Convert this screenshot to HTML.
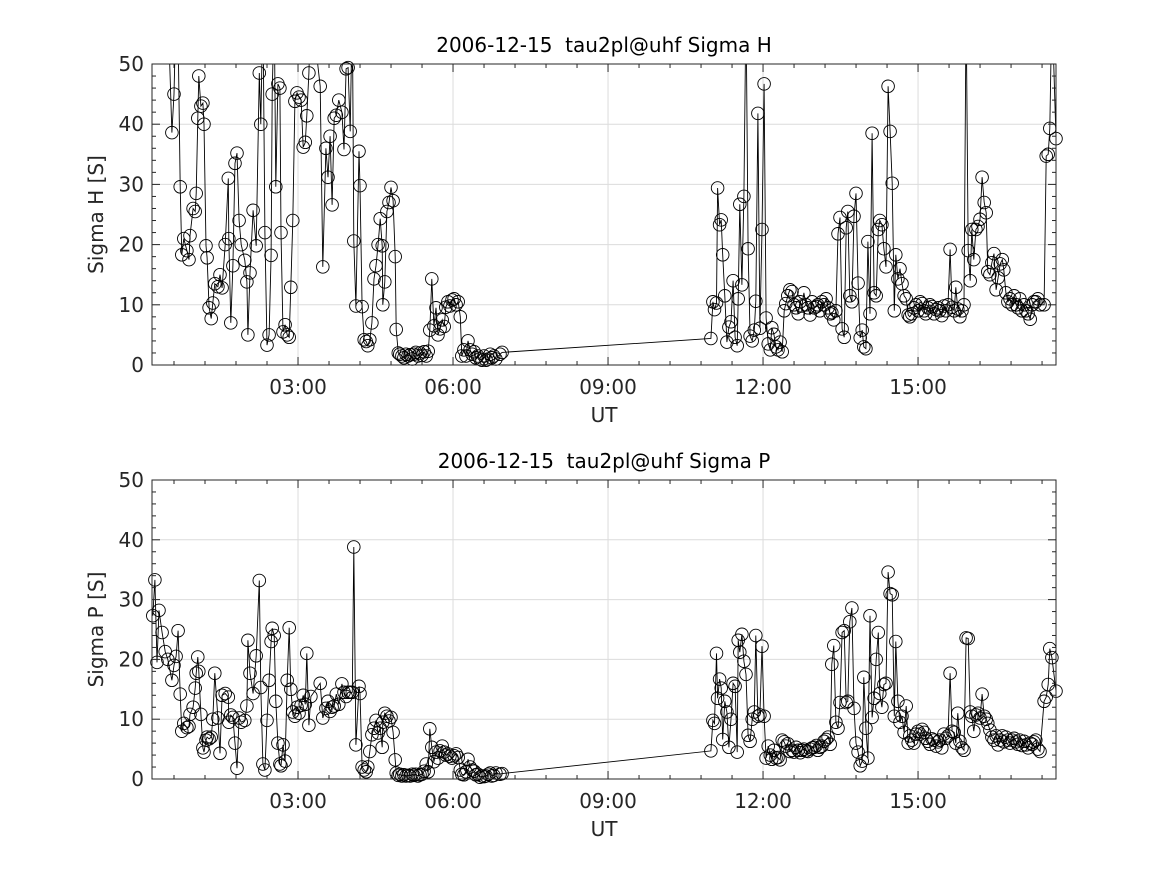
<!DOCTYPE html>
<html><head><meta charset="utf-8"><style>
body{margin:0;background:#fff;}
svg{display:block;font-family:"DejaVu Sans","Liberation Sans",sans-serif;}
text{white-space:pre;}
</style></head><body>
<svg id="fig" width="1167" height="875" viewBox="0 0 1167 875"></svg>
<script>
const times=[0.19,0.23,0.27,0.31,0.37,0.43,0.48,0.56,0.60,0.64,0.68,0.72,0.75,0.79,0.85,0.89,0.91,0.97,1.01,1.03,1.06,1.08,1.12,1.16,1.18,1.22,1.24,1.28,1.32,1.35,1.39,1.45,1.49,1.53,1.59,1.65,1.66,1.70,1.74,1.78,1.82,1.86,1.90,1.97,2.01,2.03,2.07,2.13,2.19,2.25,2.28,2.32,2.36,2.40,2.44,2.48,2.50,2.54,2.57,2.61,2.65,2.67,2.71,2.75,2.79,2.83,2.86,2.90,2.94,2.98,3.02,3.06,3.10,3.14,3.17,3.21,3.25,3.43,3.48,3.54,3.58,3.62,3.66,3.70,3.74,3.79,3.85,3.89,3.93,3.97,4.01,4.05,4.08,4.12,4.18,4.20,4.24,4.28,4.32,4.35,4.39,4.43,4.47,4.51,4.55,4.59,4.63,4.64,4.68,4.72,4.76,4.80,4.84,4.88,4.90,4.94,4.97,5.01,5.05,5.09,5.13,5.17,5.21,5.24,5.28,5.32,5.36,5.40,5.44,5.48,5.52,5.55,5.59,5.63,5.67,5.71,5.75,5.79,5.83,5.86,5.90,5.94,5.98,6.02,6.06,6.10,6.14,6.17,6.21,6.25,6.29,6.33,6.37,6.41,6.44,6.48,6.52,6.56,6.60,6.64,6.68,6.72,6.75,6.79,6.83,6.91,6.95,
10.99,11.03,11.06,11.10,11.12,11.16,11.19,11.22,11.26,11.30,11.34,11.38,11.42,11.46,11.50,11.52,11.55,11.59,11.63,11.67,11.71,11.75,11.79,11.83,11.86,11.90,11.94,11.98,12.02,12.06,12.10,12.14,12.17,12.21,12.25,12.29,12.33,12.37,12.41,12.44,12.48,12.52,12.56,12.60,12.64,12.68,12.72,12.75,12.79,12.83,12.87,12.91,12.95,12.99,13.03,13.06,13.10,13.14,13.18,13.22,13.26,13.30,13.33,13.37,13.41,13.45,13.49,13.53,13.57,13.61,13.64,13.68,13.72,13.76,13.80,13.84,13.88,13.92,13.95,13.99,14.03,14.07,14.11,14.15,14.19,14.23,14.26,14.30,14.34,14.38,14.42,14.46,14.50,14.54,14.57,14.61,14.65,14.69,14.73,14.77,14.81,14.84,14.88,14.92,14.96,15.00,15.04,15.08,15.12,15.15,15.19,15.23,15.27,15.31,15.35,15.39,15.42,15.46,15.50,15.54,15.58,15.62,15.66,15.70,15.73,15.77,15.81,15.85,15.89,15.93,15.97,16.01,16.04,16.08,16.12,16.16,16.20,16.24,16.28,16.32,16.35,16.39,16.43,16.47,16.51,16.55,16.59,16.63,16.66,16.70,16.74,16.78,16.82,16.86,16.90,16.93,16.97,17.01,17.05,17.09,17.13,17.17,17.21,17.24,17.28,17.32,17.36,17.44,17.48,17.52,17.55,17.59,17.67];
const sigmaH=[60,70,55,65,60,60,60,38.6,45,60,55,29.6,18.3,21,19,17.5,21.5,26,25.5,28.5,41,48,43,43.5,40,19.8,17.8,9.5,7.7,10.3,13.5,13,15,12.8,20,31,21,7,16.5,33.5,35.2,24,20,17.4,13.8,5,15.3,25.7,19.8,48.5,40,60,22,3.3,5,18.2,45,60,29.6,46.7,46,22,5.5,6.7,5,4.6,12.9,24,43.8,45.2,44.5,44,36.2,37,41.4,48.5,60,46.3,16.3,36,31.2,38,26.6,41,41.5,44,42,35.8,49.2,49.4,38.8,60,20.6,9.8,35.5,29.8,9.7,4.2,3.9,3.2,4.2,7,14.3,16.5,20,24.3,19.8,10,13.8,25.5,27,29.5,27.3,18,5.9,2,1.8,1.5,1.2,1.8,1.5,1.7,1,1.8,2.1,1.5,2,1.6,2.2,1.5,2.3,5.8,14.3,6.5,9.5,5,6,7.5,6.4,9.6,10.5,9.8,10.8,11,10,10.5,8,1.5,2.5,1.5,4,2.5,1.8,2.2,1.2,1.5,1,0.8,1.5,0.8,1,1.8,1.2,1.5,1,1.8,2.1,
4.4,10.5,9.2,10.3,29.4,23.3,24.1,18.3,11.5,3.8,6.3,7.2,14,4.6,3.2,11,26.7,13.3,28,60,19.3,4.8,4,5.8,10.6,41.8,6.1,22.5,46.7,7.8,3.5,2.5,6.2,5.1,3,2.5,3.8,2.2,9,10.2,11.5,12.5,12.2,10,9.5,8.5,10.5,9.8,12,10,9.5,8.3,10.5,9.5,9.7,10,9,10.5,10,11,9.5,8.5,8.7,7.5,9,21.8,24.5,6,4.6,22.8,25.5,11.5,10.5,24.7,28.5,13.6,4.5,5.8,3,2.7,20.5,8.5,38.5,12,11.5,22.5,24,23.3,19.3,16.3,46.3,38.8,30.2,9,18.3,14.3,16,13.5,11.5,11,8.3,8,8.5,9.5,10,9,10.5,10.2,9,8.5,9.5,10,9.7,8.5,9.2,9.5,9,8.2,9.8,9,10,19.2,9.6,9,12.9,9.3,8,9,10,60,19,14,22.5,17.5,22.5,23,24.2,31.2,27,25.3,15.5,15,17,18.5,12.5,14.5,16.8,17.5,15.8,12,10.5,11,10,11.5,10,9.5,11,9,10,9,8.5,7.6,10,10.5,10.5,11,10,10,34.7,35,39.3,60,37.6];
const sigmaP=[27.3,33.3,19.5,28.2,24.5,21.3,20,16.5,19,20.5,24.8,14.2,8,9.3,8.6,8.8,10.8,12,15.2,17.7,20.4,18,10.8,5.2,4.5,6.5,7,6.7,7,10,17.7,10.2,4.3,14,14.3,13.7,9.5,10.7,10.3,6,1.8,10.2,9.5,9.8,12.2,23.2,17.7,14.3,20.6,33.2,15.3,2.5,1.5,9.8,16.5,23,25.2,24,13,6,2.5,2.2,5.7,3,16.5,25.3,15,11.2,10.5,12,11,12.3,14,12.5,21,9,13.8,16,10.2,11.8,13,11.3,12,12.2,14.2,12.5,15.9,14.5,13.8,14.5,14.5,14.5,38.8,5.7,15.5,14.3,2,1.5,1.2,2,4.6,7.4,8.5,9.8,7.7,8.5,5.3,9.5,11,10.5,9.7,10.3,7.8,3.2,1,0.6,0.8,0.5,0.7,0.5,0.6,0.5,0.8,0.6,0.8,0.5,0.7,0.8,1.3,2.5,1.2,8.4,5.3,2.9,4.5,3.5,4.7,5.5,4.5,4,4.2,3.8,3.5,3.9,4.2,3.6,1.5,0.8,0.7,1.2,3.3,2,1.5,1.3,0.7,0.8,0.3,0.5,0.4,0.5,0.8,1,0.5,0.6,1,0.8,0.9,
4.7,9.8,9.3,21,13.5,16.7,15.2,6.6,13,11.2,5.3,10,16,15.5,4.5,23.2,21.2,24.2,19.7,17.5,7.3,6.3,10,11.2,24,10.5,10.7,22.2,10.5,3.5,5.5,4,3.3,4.8,3.5,3.6,3.2,6.5,6.2,5.5,5.9,4.6,4.8,4.5,5.3,4.8,4.4,4.8,5,4.7,4.6,5,5.2,5.3,5.6,4.8,5.3,5.5,6.3,6.6,7,5.8,19.2,22.3,9.5,8.5,12.8,24.5,24.8,12.8,13,26.3,28.6,11.8,6,4.5,2.2,3,17,8.5,3.5,27.3,10.3,13.5,20,24.5,14.3,12,15.8,16,34.6,31,30.8,10.5,23,13,9.5,10.5,7.8,12.2,6,7.2,6.5,6,7.5,8,7.5,8.3,7.8,6.8,6.3,5.8,6.7,6.5,5.5,6.2,6.5,5.2,7.5,6.8,7.2,17.7,8,7.8,6,11,6.3,5.2,4.8,23.6,23.5,11.2,10.5,8,10.7,11,10.2,14.2,10.5,10,9.3,8.2,7,6.5,7.2,5.7,6.5,7.2,6.2,7,6.5,6,6.5,6.8,6.2,5.8,6.5,5.6,6.3,5.7,5.2,6,5.8,6.2,6.5,5,4.6,13,13.7,15.8,21.8,20.3,14.7];
const xTicks=[3,6,9,12,15];
const xTickLabels=["03:00","06:00","09:00","12:00","15:00"];
const yTicks=[0,10,20,30,40,50];

const NS="http://www.w3.org/2000/svg";
const svg=document.getElementById('fig');
const X0=152,X1=1056,T0=0.174,T1=17.67;
function xs(t){return X0+(t-T0)/(T1-T0)*(X1-X0);}
function mk(tag,attrs,parent){const e=document.createElementNS(NS,tag);for(const k in attrs)e.setAttribute(k,attrs[k]);(parent||svg).appendChild(e);return e;}

function panel(top,bottom,vals,title,ylab,key){
  const ys=v=>bottom-(v/50)*(bottom-top);
  const g=mk('g',{});
  
  
  mk('rect',{x:X0,y:top,width:X1-X0,height:bottom-top,fill:'#fff'},g);
  xTicks.forEach(t=>{const l=mk('line',{x1:xs(t),x2:xs(t),y1:top,y2:bottom,stroke:'#dcdcdc','stroke-width':1},g);
    });
  yTicks.forEach(v=>{const l=mk('line',{x1:X0,x2:X1,y1:ys(v),y2:ys(v),stroke:'#dcdcdc','stroke-width':1},g);
    });
  const cp=mk('clipPath',{id:'clip-'+key},g);
  mk('rect',{x:X0,y:top,width:X1-X0,height:bottom-top},cp);
  let d='';
  times.forEach((t,i)=>{d+=(i?'L':'M')+xs(t).toFixed(1)+' '+ys(vals[i]).toFixed(1);});
  const line=mk('path',{d:d,fill:'none',stroke:'#000','stroke-width':0.9,'clip-path':'url(#clip-'+key+')'},g);
  
  
  times.forEach((t,i)=>{
    if(vals[i]>50||vals[i]<0)return;
    const c=mk('circle',{cx:xs(t).toFixed(1),cy:ys(vals[i]).toFixed(1),r:6.3,fill:'none',stroke:'#000','stroke-width':0.9},g);
    
    
  });
  mk('rect',{x:X0,y:top,width:X1-X0,height:bottom-top,fill:'none',stroke:'#262626','stroke-width':1},g);
  for(let v=0;v<=50;v+=2){const L=(v%10===0)?8:4;
    mk('line',{x1:X0,x2:X0+L,y1:ys(v),y2:ys(v),stroke:'#262626'},g);
    mk('line',{x1:X1,x2:X1-L,y1:ys(v),y2:ys(v),stroke:'#262626'},g);}
  for(let t=0.6;t<T1;t+=0.6){const maj=Math.abs(t/3-Math.round(t/3))<0.01;const L=maj?8:4;
    mk('line',{x1:xs(t),x2:xs(t),y1:bottom,y2:bottom-L,stroke:'#262626'},g);
    mk('line',{x1:xs(t),x2:xs(t),y1:top,y2:top+L,stroke:'#262626'},g);}
  yTicks.forEach(v=>{const tx=mk('text',{x:X0-8,y:ys(v)+7,'text-anchor':'end','font-size':20,fill:'#262626'},g);tx.textContent=v;
    });
  xTicks.forEach((t,i)=>{const tx=mk('text',{x:xs(t),y:bottom+29,'text-anchor':'middle','font-size':20,fill:'#262626'},g);tx.textContent=xTickLabels[i];
    });
  const ti=mk('text',{x:604,y:top-12,'text-anchor':'middle','font-size':20,fill:'#000'},g);ti.textContent=title;
  
  const xl=mk('text',{x:604,y:bottom+57,'text-anchor':'middle','font-size':20,fill:'#262626'},g);xl.textContent='UT';
  
  const yc=(top+bottom)/2;
  const yl=mk('text',{x:103,y:yc,'text-anchor':'middle','font-size':20,fill:'#262626',transform:'rotate(-90 103 '+yc+')'},g);yl.textContent=ylab;
  
}
panel(64,365,sigmaH,'2006-12-15  tau2pl@uhf Sigma H','Sigma H [S]','sigma-h');
panel(480,779,sigmaP,'2006-12-15  tau2pl@uhf Sigma P','Sigma P [S]','sigma-p');
</script>
</body></html>
